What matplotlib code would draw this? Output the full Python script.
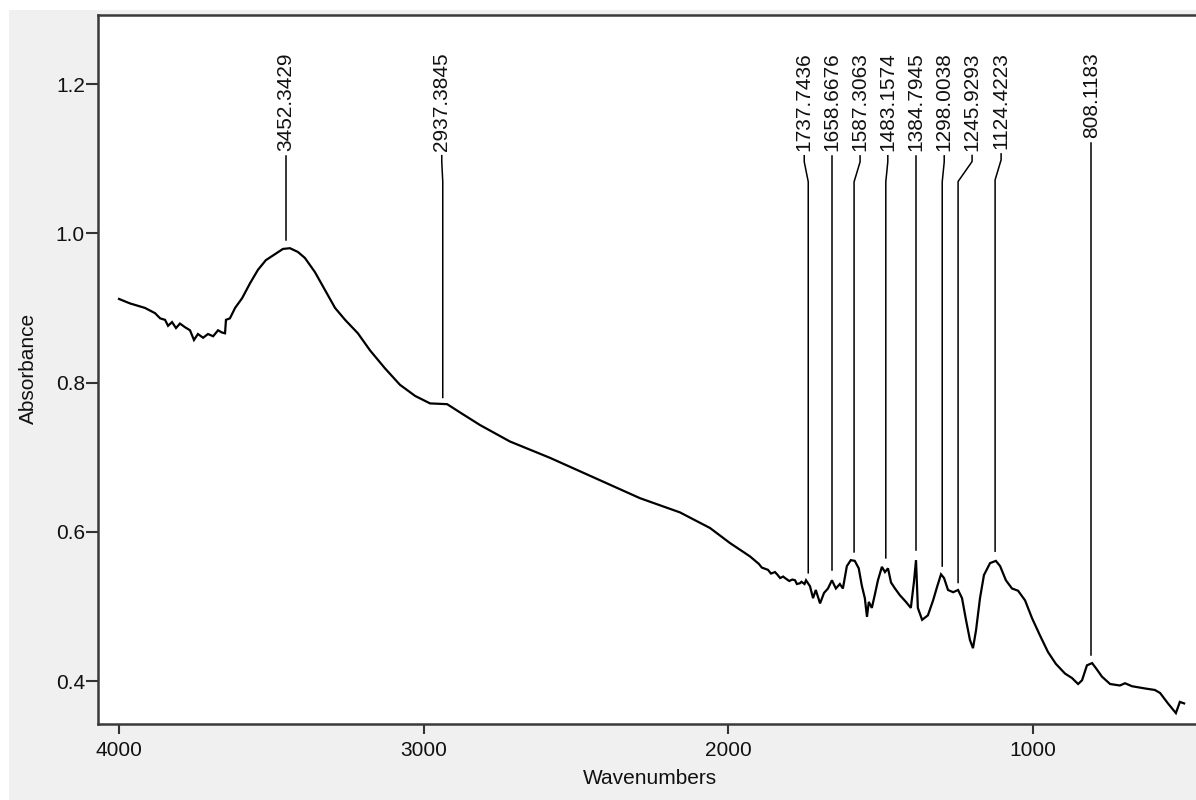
import matplotlib
matplotlib.use("Agg")
import matplotlib.pyplot as plt
from matplotlib.patches import Rectangle
from matplotlib.transforms import offset_copy

# ---------------- data ----------------
wavenumbers = [4000, 3964, 3915, 3882, 3865, 3849, 3839, 3826, 3813, 3800, 3783, 3767,
               3754, 3741, 3724, 3708, 3691, 3675, 3662, 3652, 3649, 3636, 3619, 3596, 3570,
               3544, 3518, 3488, 3462, 3439, 3413, 3390, 3357, 3324, 3291, 3258, 3216,
               3176, 3127, 3078, 3028, 2979, 2923, 2881, 2815, 2717, 2585, 2421, 2290,
               2159, 2060, 1995, 1929, 1900, 1890, 1870, 1860, 1847, 1840, 1830, 1820,
               1814, 1800, 1790, 1781, 1775, 1765, 1760, 1750, 1745, 1732, 1722,
               1713, 1699, 1686, 1673, 1660, 1647, 1634, 1624, 1611, 1598, 1585, 1572,
               1562, 1552, 1545, 1539, 1529, 1519, 1509, 1496, 1486, 1476, 1466, 1453,
               1437, 1417, 1401, 1391, 1384, 1378, 1364, 1345, 1328, 1315, 1302, 1292,
               1279, 1262, 1246, 1233, 1220, 1207, 1197, 1187, 1174, 1161, 1141, 1122,
               1108, 1089, 1069, 1049, 1026, 1003, 977, 951, 925, 895, 872, 852,
               839, 823, 806, 793, 774, 747, 715, 698, 675, 632, 600, 583,
               557, 531, 518, 504]
absorbance = [0.912, 0.906, 0.900, 0.893, 0.886, 0.884, 0.876, 0.881, 0.873, 0.879, 0.874, 0.870,
              0.857, 0.865, 0.860, 0.865, 0.862, 0.870, 0.867, 0.866, 0.884, 0.886, 0.900, 0.913, 0.933,
              0.951, 0.964, 0.972, 0.979, 0.980, 0.975, 0.967, 0.948, 0.924, 0.900, 0.884, 0.866,
              0.843, 0.819, 0.797, 0.782, 0.772, 0.771, 0.760, 0.743, 0.721, 0.699, 0.669, 0.645,
              0.626, 0.605, 0.585, 0.567, 0.557, 0.552, 0.549, 0.544, 0.546, 0.543, 0.538, 0.540,
              0.538, 0.534, 0.536, 0.535, 0.530, 0.531, 0.533, 0.530, 0.535, 0.527, 0.511,
              0.522, 0.504, 0.518, 0.524, 0.535, 0.524, 0.530, 0.524, 0.554, 0.562, 0.561, 0.551,
              0.528, 0.511, 0.486, 0.506, 0.498, 0.516, 0.535, 0.553, 0.546, 0.551, 0.532, 0.524,
              0.515, 0.506, 0.498, 0.532, 0.562, 0.498, 0.482, 0.488, 0.508, 0.526, 0.543, 0.538,
              0.522, 0.519, 0.522, 0.511, 0.482, 0.455, 0.444, 0.468, 0.511, 0.542, 0.558, 0.561,
              0.554, 0.535, 0.524, 0.521, 0.508, 0.484, 0.461, 0.439, 0.423, 0.410, 0.404, 0.396,
              0.401, 0.421, 0.424, 0.417, 0.406, 0.396, 0.394, 0.397, 0.393, 0.390, 0.388, 0.384,
              0.370, 0.357, 0.372, 0.370]

peak_positions = [3452.3429, 2937.3845, 1737.7436, 1658.6676, 1587.3063, 1483.1574,
                  1384.7945, 1298.0038, 1245.9293, 1124.4223, 808.1183]
peak_labels = ["3452.3429", "2937.3845", "1737.7436", "1658.6676", "1587.3063", "1483.1574",
               "1384.7945", "1298.0038", "1245.9293", "1124.4223", "808.1183"]
marker_tips = [0.991, 0.780, 0.545, 0.549, 0.573, 0.565, 0.575, 0.554, 0.532, 0.574, 0.435]

x_ticks = [4000, 3000, 2000, 1000]
y_ticks = [0.4, 0.6, 0.8, 1.0, 1.2]
x_label = "Wavenumbers"
y_label = "Absorbance"

# ---------------- layout / style ----------------
W, H = 1196, 800
label_shift_px = [0, -1, -4, 0, 6, 2, 0, 2, 14, 6, 0]
FONT = "Liberation Sans"
FS = 15
TXT = "#111111"
plt.rcParams["font.family"] = [FONT, "DejaVu Sans"]

fig = plt.figure(figsize=(W / 100, H / 100), dpi=100, facecolor="white")
fig.add_artist(Rectangle((9 / W, 0), 1 - 9 / W, 1 - 10 / H, transform=fig.transFigure,
                         facecolor="#f0f0f0", edgecolor="none", zorder=-10))

ax = fig.add_axes([98 / W, (H - 724) / H, (W - 98) / W, (724 - 15) / H])
ax.set_facecolor("white")
ax.set_xlim(4069, 465)
ax.set_ylim(0.3424, 1.2925)

ax.plot(wavenumbers, absorbance, color="black", lw=1.6, solid_joinstyle="miter")

ax.set_xticks(x_ticks)
ax.set_xticklabels([str(t) for t in x_ticks])
ax.set_yticks(y_ticks)
ax.set_yticklabels([f"{t:.1f}" for t in y_ticks])
ax.tick_params(axis="both", direction="out", width=1.5, color="#333333",
               labelsize=FS, labelcolor=TXT)
ax.tick_params(axis="x", length=7.5, pad=5)
ax.tick_params(axis="y", length=8.5, pad=1)

for side in ("top", "left", "bottom"):
    ax.spines[side].set_color("#3a3a3a")
    ax.spines[side].set_linewidth(1.8)
ax.spines["right"].set_visible(False)

fig.text(28 / W, 1 - 368 / H, y_label, rotation=90, ha="center", va="center",
         fontsize=FS, color=TXT)
fig.text(650 / W, 1 - 779 / H, x_label, ha="center", va="center",
         fontsize=FS, color=TXT)

# peak labels
label_top = 1.2429
texts = []
for pos, lab, dx in zip(peak_positions, peak_labels, label_shift_px):
    tr = offset_copy(ax.transData, fig=fig, x=dx, y=0, units="dots")
    t = ax.text(pos, label_top, lab, rotation=90, ha="center", va="top",
                fontsize=FS, color=TXT, transform=tr)
    texts.append(t)

fig.canvas.draw()
renderer = fig.canvas.get_renderer()
inv = ax.transData.inverted()
for t, pos, tip in zip(texts, peak_positions, marker_tips):
    bb = t.get_window_extent(renderer)
    xc = (bb.x0 + bb.x1) / 2
    ytop = bb.y0 - 5
    px, py = ax.transData.transform((pos, tip))
    pts = [(xc, ytop), (xc, ytop - 6), (px, ytop - 26), (px, py)]
    dpts = inv.transform(pts)
    ax.plot(dpts[:, 0], dpts[:, 1], color="black", lw=1.1)

fig.savefig("out.png", dpi=100, facecolor=fig.get_facecolor())
